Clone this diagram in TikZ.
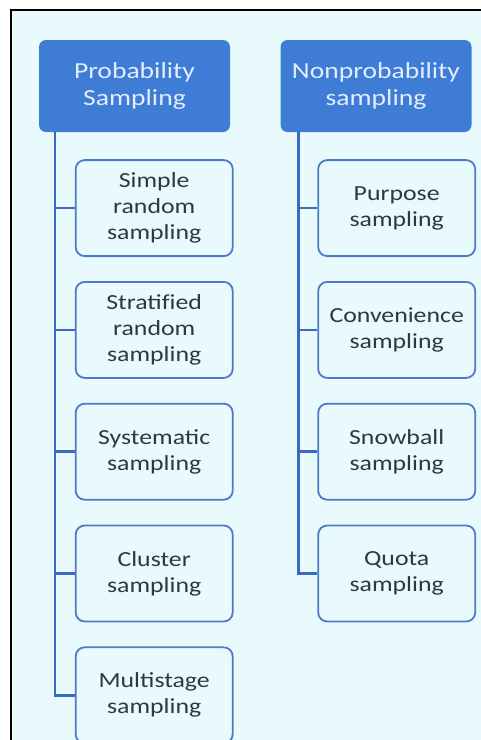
\documentclass[tikz,border=0pt]{standalone}
\usepackage{fontspec}
\setmainfont{Carlito}[FakeStretch=1.2]
\usepackage{xcolor}
\usepackage{tikz}
\usetikzlibrary{positioning,calc}
\definecolor{samplingblue}{RGB}{62,124,214}
\definecolor{leafedge}{RGB}{78,122,205}
\definecolor{trunkblue}{RGB}{58,106,198}
\definecolor{panelcyan}{RGB}{233,250,253}
\definecolor{leaftext}{RGB}{50,54,64}
\definecolor{headtext}{RGB}{226,238,255}

\begin{document}
\begin{tikzpicture}[
  x=1pt, y=-1pt,
  header/.style={rectangle, rounded corners=7pt, fill=samplingblue, text=headtext,
    minimum width=191pt, minimum height=92pt, align=center,
    font=\fontsize{23}{27}\selectfont},
  leaf/.style={rectangle, rounded corners=9pt, draw=leafedge, line width=1.8pt, fill=panelcyan,
    text=leaftext, minimum width=157pt, minimum height=96pt, align=center,
    font=\fontsize{21.5}{26}\selectfont},
  branch/.style={trunkblue, line width=2.6pt}]
\useasboundingbox (0,0) rectangle (480,740);
\draw[black, line width=2pt, fill=panelcyan] (11,10) rectangle (530,780);
% column heads
\node[header] (prob) at (134.5,86) {Probability\\Sampling};
\node[header] (nonprob) at (376,86) {Nonprobability\\sampling};
% probability methods
\node[leaf, below right=27pt and 36pt of prob.south west] (simple) {Simple\\random\\sampling};
\node[leaf, below=24pt of simple] (strat) {Stratif\kern0pt ied\\random\\sampling};
\node[leaf, below=24pt of strat] (syst) {Systematic\\sampling};
\node[leaf, below=24pt of syst] (clust) {Cluster\\sampling};
\node[leaf, below=24pt of clust] (multi) {Multistage\\sampling};
% nonprobability methods
\node[leaf, below right=27pt and 37pt of nonprob.south west] (purp) {Purpose\\sampling};
\node[leaf, below=24pt of purp] (conv) {Convenience\\sampling};
\node[leaf, below=24pt of conv] (snow) {Snowball\\sampling};
\node[leaf, below=24pt of snow] (quota) {Quota\\sampling};
% trunks
\coordinate (probroot) at ($(prob.south west)+(16pt,0)$);
\coordinate (nonroot) at ($(nonprob.south west)+(18pt,0)$);
\foreach \n in {simple,strat,syst,clust,multi}
  \draw[branch] (probroot) |- (\n.west);
\foreach \n in {purp,conv,snow,quota}
  \draw[branch] (nonroot) |- (\n.west);
\end{tikzpicture}
\end{document}
